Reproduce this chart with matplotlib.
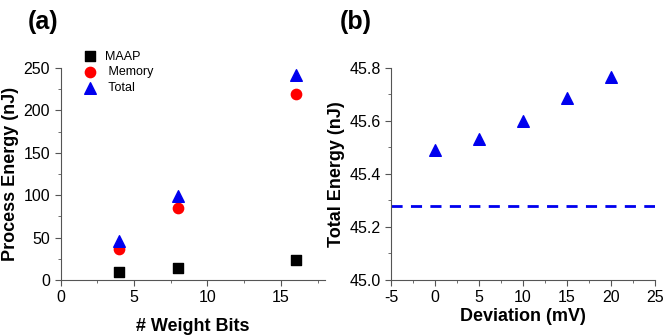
import numpy as np
import matplotlib.pyplot as plt
from matplotlib.ticker import MultipleLocator, AutoMinorLocator

plt.rcParams["font.family"] = ["Liberation Sans", "DejaVu Sans"]
plt.rcParams["font.size"] = 11.5
plt.rcParams["axes.unicode_minus"] = False

# panel (a)
weight_bits = [4, 8, 16]
maap = [9, 14, 23]
memory = [36, 85, 219]
total = [46, 99, 242]

# panel (b)
deviation = [0, 5, 10, 15, 20]
total_energy = [45.49, 45.533, 45.60, 45.685, 45.765]
baseline = 45.278

fig = plt.figure(figsize=(6.63, 3.35), dpi=100)
ax1 = fig.add_axes([60.5 / 663, 1 - 280 / 335, (325 - 60.5) / 663, (280 - 68) / 335])
ax2 = fig.add_axes([391 / 663, 1 - 280 / 335, (655 - 391) / 663, (280 - 68) / 335])

ax1.scatter(weight_bits, maap, marker="s", s=45, color="black", label="MAAP", zorder=3)
ax1.scatter(weight_bits, memory, marker="o", s=55, color="#ff0000", label=" Memory", zorder=3)
ax1.scatter(weight_bits, total, marker="^", s=70, color="#0000ee", label=" Total", zorder=3)
ax1.set_xlim(0, 18)
ax1.set_ylim(0, 250)
ax1.xaxis.set_major_locator(MultipleLocator(5))
ax1.yaxis.set_major_locator(MultipleLocator(50))
ax1.set_xlabel("# Weight Bits", fontsize=13, fontweight="bold", labelpad=9)
ax1.set_ylabel("Process Energy (nJ)", fontsize=13, fontweight="bold", labelpad=3)
ax1.legend(loc="upper left", bbox_to_anchor=(0.065, 1.105), frameon=False, fontsize=9,
           handletextpad=0.6, labelspacing=0.3, borderaxespad=0, handlelength=1.2)

ax2.scatter(deviation, total_energy, marker="^", s=70, color="#0000ee", zorder=3)
ax2.axhline(baseline, color="#0000ee", linestyle=(0, (4, 3)), linewidth=2)
ax2.set_xlim(-5, 25)
ax2.set_ylim(45.0, 45.8)
ax2.xaxis.set_major_locator(MultipleLocator(5))
ax2.yaxis.set_major_locator(MultipleLocator(0.2))
ax2.yaxis.set_major_formatter(plt.FormatStrFormatter("%.1f"))
ax2.set_xlabel("Deviation (mV)", fontsize=13, fontweight="bold", labelpad=2)
ax2.set_ylabel("Total Energy (nJ)", fontsize=13, fontweight="bold", labelpad=3)

for ax in (ax1, ax2):
    ax.spines["top"].set_visible(False)
    ax.spines["right"].set_visible(False)
    for s in ("left", "bottom"):
        ax.spines[s].set_color("#555555")
        ax.spines[s].set_linewidth(0.8)
    ax.xaxis.set_minor_locator(AutoMinorLocator(2))
    ax.yaxis.set_minor_locator(AutoMinorLocator(2))
    ax.tick_params(which="major", direction="out", length=4, color="#555555", labelsize=11.5)
    ax.tick_params(which="minor", direction="out", length=2.5, color="#555555")

fig.text(28 / 663, 1 - 22 / 335, "(a)", fontsize=18, fontweight="bold", va="center")
fig.text(340 / 663, 1 - 22 / 335, "(b)", fontsize=18, fontweight="bold", va="center")

plt.savefig("out.png", dpi=100)
